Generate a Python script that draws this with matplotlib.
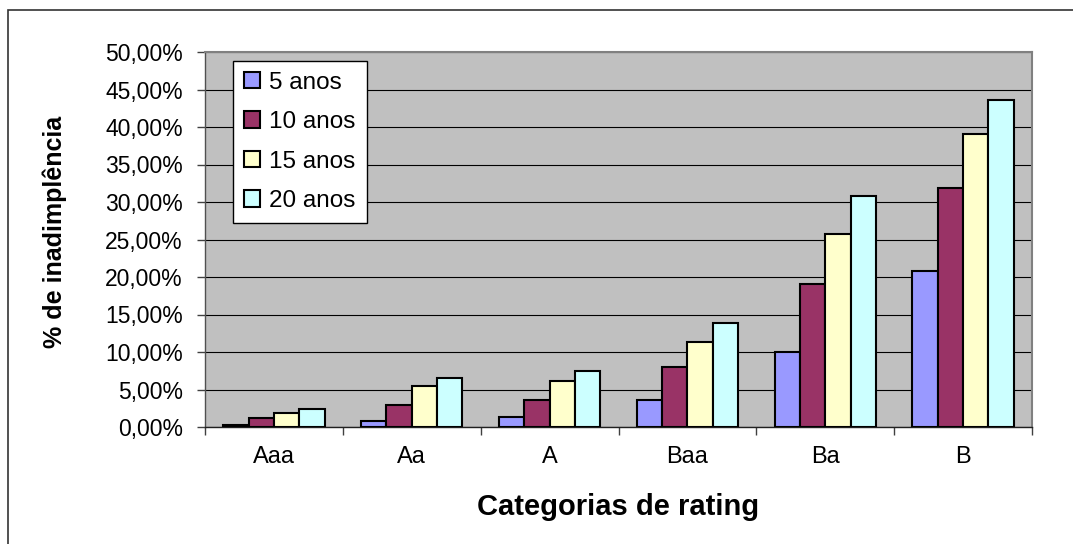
import matplotlib
matplotlib.use("Agg")
import matplotlib.pyplot as plt
from matplotlib.patches import Rectangle
from matplotlib.ticker import FuncFormatter
import numpy as np

plt.rcParams['font.family'] = ['Liberation Sans', 'DejaVu Sans']

# Cumulative default rates (%) by rating category and horizon
categories = ["Aaa", "Aa", "A", "Baa", "Ba", "B"]
series_labels = ["5 anos", "10 anos", "15 anos", "20 anos"]
rate_5y = [0.25, 0.8, 1.35, 3.6, 10.0, 20.8]
rate_10y = [1.15, 3.0, 3.6, 8.0, 19.1, 31.9]
rate_15y = [1.9, 5.5, 6.1, 11.4, 25.8, 39.1]
rate_20y = [2.45, 6.6, 7.5, 13.9, 30.8, 43.6]
y_ticks = [0, 5, 10, 15, 20, 25, 30, 35, 40, 45, 50]

series = [rate_5y, rate_10y, rate_15y, rate_20y]
colors = ["#9999FF", "#993366", "#FFFFCC", "#CCFFFF"]

W, H = 1073, 544
fig = plt.figure(figsize=(W / 100, H / 100), dpi=100)
fig.patch.set_facecolor("white")

# outer chart frame
fig.patches.append(Rectangle((8 / W, -0.05), 1.2, 1 - 10 / H + 0.05,
                             transform=fig.transFigure, fill=False,
                             edgecolor="#333333", linewidth=1.2))

ax = fig.add_axes([205 / W, (H - 427) / H, (1032 - 205) / W, (427 - 52) / H])
ax.set_facecolor("#C0C0C0")

x = np.arange(len(categories))
bar_w = 0.184
for i, (vals, col, lab) in enumerate(zip(series, colors, series_labels)):
    ax.bar(x + (i - 1.5) * bar_w, vals, width=bar_w, color=col,
           edgecolor="black", linewidth=1.5, label=lab, zorder=3)

ax.set_xlim(-0.5, len(categories) - 0.5)
ax.set_ylim(0, 50)
ax.set_yticks(y_ticks)
ax.yaxis.set_major_formatter(FuncFormatter(lambda v, p: f"{v:.2f}%".replace(".", ",")))
ax.yaxis.grid(True, color="black", linewidth=0.8, zorder=1)
ax.set_axisbelow(True)

# category labels centred, tick marks on the boundaries
ax.set_xticks(x)
ax.set_xticklabels(categories)
ax.set_xticks(np.arange(-0.5, len(categories)), minor=True)
ax.tick_params(axis="x", which="major", length=0, pad=14, labelsize=17)
ax.tick_params(axis="x", which="minor", length=6, width=1, color="#404040",
               direction="out")
ax.tick_params(axis="y", length=6, width=1, color="#404040", direction="out",
               pad=10, labelsize=16.5)

for side in ["top", "right"]:
    ax.spines[side].set_color("#808080")
    ax.spines[side].set_linewidth(1.5)
ax.spines["left"].set_color("#505050")
ax.spines["bottom"].set_color("#202020")
ax.spines["left"].set_linewidth(1.0)
ax.spines["bottom"].set_linewidth(1.0)

ax.set_xlabel("Categorias de rating", fontsize=21, fontweight="bold")
ax.xaxis.set_label_coords(0.5, -0.2133)
ax.xaxis.label.set_va("center")
ax.set_ylabel("% de inadimplência", fontsize=18, fontweight="bold")
ax.yaxis.set_label_coords(-0.1814, 0.52)
ax.yaxis.label.set_va("center")

leg = ax.legend(loc="upper left", bbox_to_anchor=((232.7 - 205) / 827, (427 - 60.7) / 375),
                borderaxespad=0, fontsize=17.5, frameon=True, fancybox=False,
                edgecolor="black", framealpha=1, handlelength=0.66,
                handleheight=0.66, handletextpad=0.4, labelspacing=0.72,
                borderpad=0.45)
leg.get_frame().set_linewidth(1.0)
leg.set_zorder(5)

fig.savefig("out.png", dpi=100)
